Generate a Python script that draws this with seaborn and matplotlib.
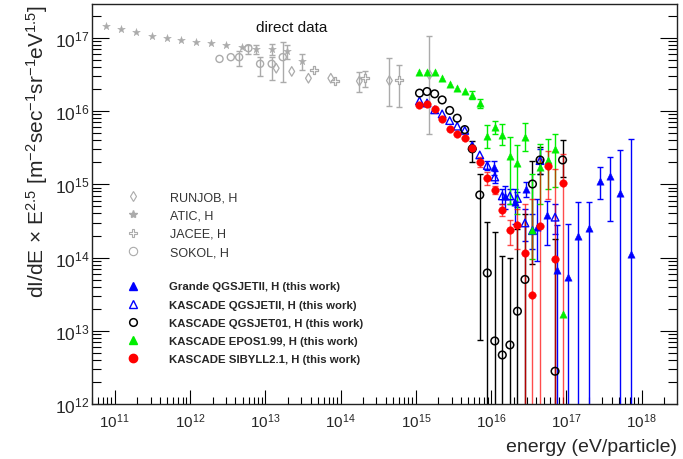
import numpy as np
import matplotlib
matplotlib.use("Agg")
import matplotlib.pyplot as plt
import seaborn as sns
from matplotlib.lines import Line2D
from matplotlib.ticker import LogLocator, FixedLocator, FuncFormatter, NullFormatter

nan = np.nan

# ---------------- direct measurements ----------------
atic_E = [7.71e10, 1.23e11, 1.95e11, 3.09e11, 4.90e11, 7.71e11, 1.22e12, 1.93e12,
          3.05e12, 4.90e12, 7.64e12, 1.23e13, 1.94e13, 3.06e13]
atic_flux = [1.47e17, 1.33e17, 1.20e17, 1.07e17, 9.91e16, 9.40e16, 8.89e16, 8.47e16,
             8.02e16, 7.46e16, 7.08e16, 7.08e16, 6.60e16, 4.90e16]
atic_lo = [nan] * 10 + [6.04e16, 5.86e16, 5.16e16, 3.69e16]
atic_hi = [nan] * 10 + [8.02e16, 8.28e16, 8.02e16, 6.04e16]

sokol_E = [2.47e12, 3.49e12, 4.50e12, 5.98e12, 8.55e12, 1.22e13, 1.71e13]
sokol_flux = [5.16e16, 5.45e16, 5.45e16, 7.23e16, 4.42e16, 4.42e16, 5.45e16]
sokol_lo = [nan, nan, 4.14e16, 6.04e16, 3.03e16, 2.67e16, 2.51e16]
sokol_hi = [nan, nan, 6.64e16, 8.02e16, 5.45e16, 5.45e16, 8.81e16]

runjob_E = [1.40e13, 2.25e13, 3.75e13, 7.43e13, 1.78e14, 4.46e14, 1.52e15]
runjob_flux = [3.85e16, 3.48e16, 2.81e16, 2.81e16, 2.57e16, 2.61e16, 3.13e16]
runjob_lo = [nan, nan, nan, nan, 1.82e16, 1.17e16, 4.90e15]
runjob_hi = [nan, nan, nan, nan, 3.39e16, 5.37e16, 1.07e17]

jacee_E = [4.50e13, 8.47e13, 2.12e14, 6.00e14]
jacee_flux = [3.69e16, 2.56e16, 2.84e16, 2.69e16]
jacee_lo = [nan, nan, 2.12e16, 1.14e16]
jacee_hi = [nan, nan, 3.57e16, 4.28e16]

# ---------------- KASCADE unfolding (this work) ----------------
kascade_E = [1.12e15, 1.41e15, 1.78e15, 2.24e15, 2.82e15, 3.55e15, 4.47e15, 5.62e15,
             7.08e15, 8.91e15, 1.12e16, 1.41e16, 1.78e16, 2.24e16, 2.82e16, 3.55e16,
             4.47e16, 5.62e16, 7.08e16, 8.91e16]

qii_flux = [1.38e16, 1.29e16, 1.04e16, 9.16e15, 7.42e15, 6.22e15, 5.45e15, 3.38e15,
            2.52e15, 1.81e15, 1.26e15, 6.95e14, 6.95e14, 6.41e14, 2.97e14, 2.33e14,
            2.11e15, nan, 3.56e14, nan]
qii_lo = [nan] * 9 + [1.57e15, 1.04e15, 5.40e14, 5.40e14, 4.91e14, 1.69e14, 1.31e14,
                      1.39e15, nan, 2.10e14, nan]
qii_hi = [nan] * 9 + [2.09e15, 1.52e15, 8.65e14, 8.65e14, 7.87e14, 4.61e14, 3.94e14,
                      3.05e15, nan, 5.40e14, nan]

q01_flux = [1.76e16, 1.85e16, 1.72e16, 1.42e16, 1.02e16, 8.00e15, 5.59e15, 3.05e15,
            7.16e14, 6.16e13, 7.26e12, 4.67e12, 6.40e12, 1.85e13, 5.02e13, 1.01e15,
            2.15e15, nan, 2.80e12, 2.15e15]
q01_lo = [nan] * 7 + [2.00e15, 7.55e12, 1e11, 1e11, 1e11, 1e11, 1e11, 1e11, 8.18e13,
                      1.39e15, nan, 1e11, 1.26e15]
q01_hi = [nan] * 7 + [3.95e15, 1.39e15, 3.09e14, 2.22e14, 1.04e14, 9.78e13, 2.46e14,
                      3.94e14, 2.09e15, 3.24e15, nan, 1.80e14, 4.04e15]

epos_flux = [3.40e16, 3.43e16, 3.40e16, 2.81e16, 2.32e16, 2.04e16, 1.86e16, 1.66e16,
             1.27e16, 4.54e15, 6.03e15, 4.73e15, 2.42e15, 1.96e15, 4.40e15, 2.38e14,
             1.71e15, 2.15e15, 3.05e15, 1.70e13]
epos_lo = [nan] * 7 + [1.47e16, 1.11e16, 3.11e15, 4.88e15, 3.40e15, 5.40e14, 3.94e14,
                       2.86e15, 9.57e13, 5.40e14, 8.65e14, 9.21e14, nan]
epos_hi = [nan] * 7 + [1.89e16, 1.47e16, 6.48e15, 7.42e15, 6.58e15, 4.44e15, 3.45e15,
                       6.90e15, 1.39e15, 3.56e15, 4.17e15, 4.88e15, nan]

sib_flux = [1.22e16, 1.25e16, 1.07e16, 7.82e15, 5.71e15, 4.88e15, 4.30e15, 3.14e15,
            2.02e15, 1.22e15, 8.38e14, 4.40e14, 2.38e14, 2.79e14, 1.16e14, 3.08e13,
            2.70e14, 1.77e15, 9.57e13, 1.03e15]
sib_lo = [nan] * 8 + [1.73e15, 9.82e14, 7.39e14, 3.70e14, 1.49e14, 1.31e14, 1e11, 1e11,
                      1e11, 6.32e14, 1e11, 1e11]
sib_hi = [nan] * 8 + [2.37e15, 1.48e15, 9.60e14, 5.40e14, 3.29e14, 4.61e14, 5.40e14,
                      6.32e14, 2.22e15, 2.86e15, 1.62e15, 2.60e15]

# ---------------- KASCADE-Grande ----------------
grande_E = [1.11e16, 1.53e16, 2.11e16, 2.92e16, 4.05e16, 5.55e16, 7.59e16, 1.06e17,
            1.44e17, 2.02e17, 2.80e17, 3.80e17, 5.16e17, 7.16e17]
grande_flux = [1.70e15, 6.95e14, 5.66e14, 8.65e14, 2.62e14, 3.76e14, 6.84e13, 5.38e13,
               1.95e14, 2.51e14, 1.12e15, 1.31e15, 7.63e14, 1.12e14]
grande_lo = [1.34e15, 4.61e14, 2.88e14, 6.73e14, 8.99e13, 1.49e14, 1e11, 1e11, 1e11,
             1e11, 6.32e14, 3.16e14, 1e11, 1e11]
grande_hi = [2.09e15, 9.51e14, 8.65e14, 1.08e15, 6.32e14, 5.93e14, 2.79e14, 2.88e14,
             5.75e14, 5.75e14, 1.73e15, 2.37e15, 2.95e15, 4.17e15]

x_major = [1e11, 1e12, 1e13, 1e14, 1e15, 1e16, 1e17, 1e18]
y_major = [1e12, 1e13, 1e14, 1e15, 1e16, 1e17]

direct_labels = ["RUNJOB, H", "ATIC, H", "JACEE, H", "SOKOL, H"]
work_labels = ["Grande QGSJETII, H (this work)", "KASCADE QGSJETII, H (this work)",
               "KASCADE QGSJET01, H (this work)", "KASCADE EPOS1.99, H (this work)",
               "KASCADE SIBYLL2.1, H (this work)"]

# ---------------- style ----------------
sns.set_style("ticks")
plt.rcParams['font.family'] = ['Liberation Sans', 'DejaVu Sans']
plt.rcParams['mathtext.fontset'] = 'custom'
plt.rcParams['mathtext.rm'] = 'Liberation Sans'
plt.rcParams['mathtext.it'] = 'Liberation Sans:italic'
plt.rcParams['mathtext.bf'] = 'Liberation Sans:bold'

GRAY = '#ababab'
BLUE = '#0000ff'
GREEN = '#00ee00'
RED = '#ff0000'
BLACK = '#000000'

fig = plt.figure(figsize=(6.83, 4.6), dpi=100)
ax = fig.add_axes([92 / 683, 1 - 405 / 460, 585 / 683, 400 / 460])
ax.set_xscale('log')
ax.set_yscale('log')


def bars(E, F, lo, hi, color, alpha=1.0, z=2):
    E = np.asarray(E, float)
    F = np.asarray(F, float)
    lo = np.asarray(lo, float)
    hi = np.asarray(hi, float)
    m = ~np.isnan(lo) & ~np.isnan(F)
    if m.any():
        ax.errorbar(E[m], F[m], yerr=[F[m] - lo[m], hi[m] - F[m]], fmt='none',
                    ecolor=color, elinewidth=1.0, capsize=2, capthick=1.0,
                    alpha=alpha, zorder=z)


def points(E, F, marker, color, s, open_=False, lw=1.0, z=3):
    if open_:
        sns.scatterplot(x=E, y=F, ax=ax, marker=marker, s=s, facecolor='none',
                        edgecolor=color, linewidth=lw, zorder=z)
    else:
        sns.scatterplot(x=E, y=F, ax=ax, marker=marker, s=s, color=color,
                        edgecolor=color, linewidth=0.3, zorder=z)


# direct data
bars(atic_E, atic_flux, atic_lo, atic_hi, GRAY)
bars(sokol_E, sokol_flux, sokol_lo, sokol_hi, GRAY)
bars(runjob_E, runjob_flux, runjob_lo, runjob_hi, GRAY)
bars(jacee_E, jacee_flux, jacee_lo, jacee_hi, GRAY)
points(atic_E, atic_flux, '*', GRAY, 34)
points(sokol_E, sokol_flux, 'o', GRAY, 26, open_=True, lw=1.0)
points(runjob_E, runjob_flux, 'd', GRAY, 24, open_=True, lw=0.9)
sns.scatterplot(x=jacee_E, y=jacee_flux, ax=ax, marker='P', s=32, color='white',
                edgecolor=GRAY, linewidth=0.9, zorder=3)

# this work
bars(grande_E, grande_flux, grande_lo, grande_hi, BLUE, z=2)
bars(kascade_E, qii_flux, qii_lo, qii_hi, BLUE, z=2)
bars(kascade_E, q01_flux, q01_lo, q01_hi, BLACK, z=2)
bars(kascade_E, epos_flux, epos_lo, epos_hi, GREEN, z=2)
bars(kascade_E, sib_flux, sib_lo, sib_hi, RED, alpha=0.7, z=2)
points(grande_E, grande_flux, '^', BLUE, 28)
points(kascade_E, qii_flux, '^', BLUE, 30, open_=True, lw=1.0)
points(kascade_E, q01_flux, 'o', BLACK, 30, open_=True, lw=1.1)
points(kascade_E, epos_flux, '^', GREEN, 28)
points(kascade_E, sib_flux, 'o', RED, 30)

ax.set_xlim(5.0e10, 2.95e18)
ax.set_ylim(1e12, 2.9e17)

fmt = FuncFormatter(lambda v, p: r'$10^{%d}$' % int(round(np.log10(v))))
ax.xaxis.set_major_locator(FixedLocator(x_major))
ax.yaxis.set_major_locator(FixedLocator(y_major))
for axis in (ax.xaxis, ax.yaxis):
    axis.set_minor_locator(LogLocator(base=10, subs=np.arange(2, 10), numticks=200))
    axis.set_major_formatter(fmt)
    axis.set_minor_formatter(NullFormatter())

ax.tick_params(axis='both', which='both', direction='in', right=True, top=False,
               color='black', width=0.8)
ax.tick_params(axis='y', which='major', length=12, labelsize=12.5, pad=2)
ax.tick_params(axis='y', which='minor', length=6.5)
ax.tick_params(axis='x', which='major', length=10, labelsize=11, pad=5)
ax.tick_params(axis='x', which='minor', length=5)
for sp in ax.spines.values():
    sp.set_visible(True)
    sp.set_color('#222222')
    sp.set_linewidth(1.0)

ax.set_xlabel('energy (eV/particle)', fontsize=14, loc='right')
ax.xaxis.set_label_coords(1.0, -0.086)
ax.set_ylabel(r'dI/dE$\,\times\,$E$^{2.5}$ [m$^{-2}$sec$^{-1}$sr$^{-1}$eV$^{1.5}$]',
              fontsize=15, loc='top')
ax.yaxis.set_label_coords(-0.071, 1.0)

ax.text(0.342, 0.9425, 'direct data', transform=ax.transAxes, ha='center',
        va='center', fontsize=11, color='#111111')

# legends
h1 = [Line2D([], [], ls='none', marker='d', ms=5, mfc='white', mec=GRAY, mew=0.8),
      Line2D([], [], ls='none', marker='*', ms=6, mfc=GRAY, mec=GRAY),
      Line2D([], [], ls='none', marker='P', ms=6, mfc='white', mec=GRAY, mew=0.8),
      Line2D([], [], ls='none', marker='o', ms=6, mfc='none', mec=GRAY, mew=0.8)]
leg1 = ax.legend(h1, direct_labels, loc='upper left', frameon=False,
                 bbox_to_anchor=(126.75 / 683, 1 - 192.5 / 460),
                 bbox_transform=fig.transFigure, fontsize=9, handlelength=1.0,
                 handletextpad=2.5, labelspacing=0.5, borderpad=0, borderaxespad=0,
                 labelcolor='#333333')
ax.add_artist(leg1)
h2 = [Line2D([], [], ls='none', marker='^', ms=6, mfc=BLUE, mec=BLUE),
      Line2D([], [], ls='none', marker='^', ms=6, mfc='none', mec=BLUE, mew=1.0),
      Line2D([], [], ls='none', marker='o', ms=5.5, mfc='none', mec=BLACK, mew=1.1),
      Line2D([], [], ls='none', marker='^', ms=6, mfc=GREEN, mec=GREEN),
      Line2D([], [], ls='none', marker='o', ms=6, mfc=RED, mec=RED)]
leg2 = ax.legend(h2, work_labels, loc='upper left', frameon=False,
                 bbox_to_anchor=(126.75 / 683, 1 - 282.5 / 460),
                 bbox_transform=fig.transFigure, handlelength=1.1,
                 handletextpad=2.6, labelspacing=0.72, borderpad=0, borderaxespad=0,
                 prop={'family': ['Liberation Sans'], 'weight': 'bold', 'size': 8.2})

fig.savefig('out.png', dpi=100)
